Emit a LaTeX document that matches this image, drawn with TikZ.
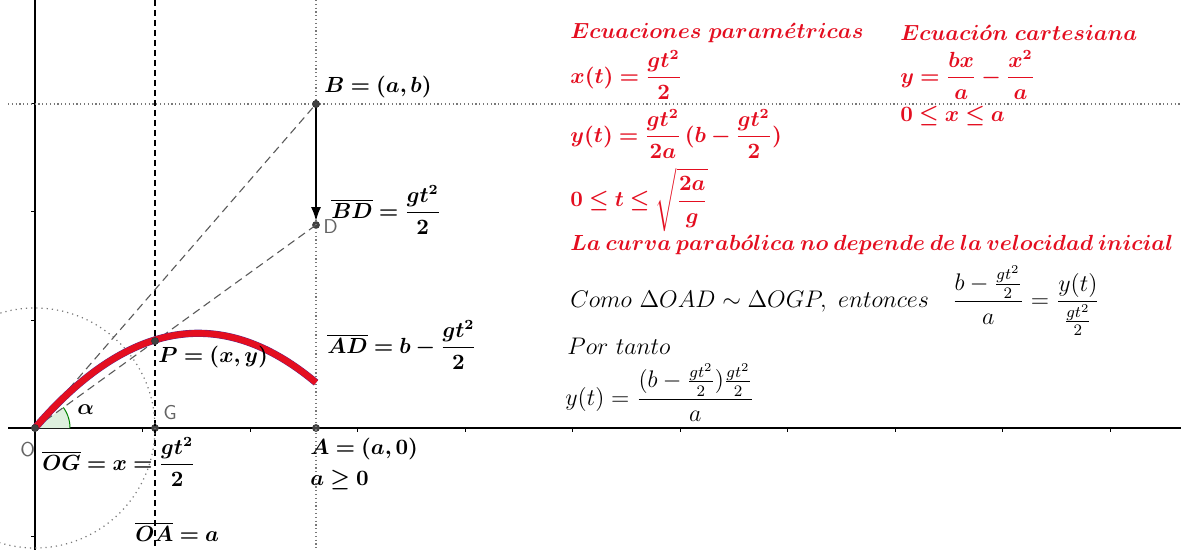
\documentclass[tikz,border=0pt]{standalone}
\usepackage{amsmath,amssymb,bm}
\usetikzlibrary{arrows.meta}
\definecolor{gred}{RGB}{228,14,32}
\definecolor{cblue}{RGB}{90,40,140}
\definecolor{ptgray}{RGB}{65,65,65}
\definecolor{lblgray}{RGB}{100,100,100}
\definecolor{dotgray}{RGB}{120,120,120}
\definecolor{dashgray}{RGB}{90,90,90}
\definecolor{angfill}{RGB}{222,240,222}
\definecolor{angline}{RGB}{0,130,0}
\tikzset{
  lbl/.style={anchor=west, inner sep=0pt, font=\fontsize{10.5}{12.6}\selectfont},
  blk/.style={anchor=west, inner sep=0pt, font=\fontsize{11.6}{14}\selectfont},
  redlbl/.style={lbl, text=gred},
  gry/.style={anchor=west, inner sep=0pt, text=lblgray, font=\sffamily\fontsize{10}{12}\selectfont},
  ptdot/.style={circle, fill=ptgray, draw=black!80, line width=0.2pt, inner sep=0pt, minimum size=3.6pt},
  dotln/.style={dotgray, line width=0.6pt, dash pattern=on 0.6pt off 1.3pt},
  dashln/.style={black, line width=0.6pt, dash pattern=on 3pt off 2pt},
  gdash/.style={dashgray, line width=0.55pt, dash pattern=on 4pt off 2.5pt},
  axis/.style={black, line width=0.6pt},
  tick/.style={black, line width=0.5pt}
}
\begin{document}
\begin{tikzpicture}[x=0.5pt, y=-0.5pt]
\clip (0,0) rectangle (1181,550);
\fill[white] (0,0) rectangle (1181,550);
% axes
\draw[axis] (8,428) -- (1181,428);
\draw[axis] (35,0) -- (35,550);
\foreach \t in {142.5,250,357.5,465,572.5,680,787.5,895,1002.5,1110}
  \draw[tick] (\t,428) -- (\t,432);
\foreach \t in {104,212,320,536}
  \draw[tick] (31,\t) -- (35,\t);
% points
\node[ptdot] (O) at (35,428) {};
\node[ptdot] (G) at (155,428) {};
\node[ptdot] (A) at (316,428) {};
\node[ptdot] (B) at (316,104) {};
\node[ptdot] (D) at (316,225) {};
\node[ptdot] (P) at (155,341) {};
% auxiliary lines
\draw[dotln] (8,104) -- (1181,104);
\draw[dotln] (316,0) -- (316,550);
\draw[dashln] (155,0) -- (155,550);
\draw[dotln, dash pattern=on 0.6pt off 2pt] (O.center) circle[radius=120];
% angle
\fill[angfill] (O.center) -- plot[domain=0:35.85, samples=20] ({35+35*cos(\x)},{428-35*sin(\x)}) -- cycle;
\draw[angline, line width=0.5pt] plot[domain=0:35.85, samples=20] ({35+35*cos(\x)},{428-35*sin(\x)});
\draw[gdash] (O.center) -- (B.center);
\draw[gdash] (O.center) -- (D.center);
% curve
\draw[cblue, line width=3.6pt] plot[domain=0:281, samples=80] ({35+\x},{428-(1.1605*\x-0.00356*\x*\x)});
\draw[gred, line width=3.2pt] plot[domain=0:281, samples=80] ({35+\x},{428-(1.1605*\x-0.00356*\x*\x)});
% arrow
\draw[black, line width=1.1pt, -{Latex[length=7pt,width=5pt]}] (B.center) -- (D.north);
\node[ptdot] at (B) {};
\node[ptdot] at (O) {};
\node[ptdot] at (P) {};
% labels
\node[gry] (lO) at (20,450) {O};
\node[gry] (lG) at (163,413) {G};
\node[gry] (lD) at (323,227) {D};
\node[lbl] (lalpha) at (77,410) {$\bm{\alpha}$};
\node[lbl] (lB) at (324,87) {$\bm{B=(a,b)}$};
\node[lbl] (lBD) at (331,210) {$\displaystyle\bm{\overline{BD}=\frac{gt^2}{2}}$};
\node[lbl] (lAD) at (327,345) {$\displaystyle\bm{\overline{AD}=b-\frac{gt^2}{2}}$};
\node[lbl] (lP) at (158,357) {$\bm{P=(x,y)}$};
\node[lbl] (lOG) at (42,462) {$\displaystyle\bm{\overline{OG}=x=\frac{gt^2}{2}}$};
\node[lbl] (lOA) at (135,532) {$\bm{\overline{OA}=a}$};
\node[lbl] (lA) at (310,449) {$\bm{A=(a,0)}$};
\node[lbl] (la) at (310,480) {$\bm{a\geq 0}$};
% right-hand text
\node[redlbl] (t1) at (570,33) {$\bm{Ecuaciones\ param\acute{e}tricas}$};
\node[redlbl] (t2) at (900,33) {$\bm{Ecuaci\acute{o}n\ cartesiana}$};
\node[redlbl] (t3) at (570,75) {$\displaystyle\bm{x(t)=\frac{gt^2}{2}}$};
\node[redlbl] (t4) at (570,134) {$\displaystyle\bm{y(t)=\frac{gt^2}{2a}\,(b-\frac{gt^2}{2})}$};
\node[redlbl, anchor=base west] (t5) at (570,207) {$\displaystyle\bm{0\leq t\leq\sqrt{\frac{2a}{g}}}$};
\node[redlbl] (t6) at (900,75) {$\displaystyle\bm{y=\frac{bx}{a}-\frac{x^2}{a}}$};
\node[redlbl] (t7) at (900,116) {$\bm{0\leq x\leq a}$};
\node[redlbl] (t8) at (570,245) {$\bm{La\:curva\:parab\acute{o}lica\:no\:depende\:de\:la\:velocidad\:inicial}$};
\node[blk] (t9) at (570,301) {$Como\ \Delta OAD\sim\Delta OGP,\ entonces\quad\displaystyle\frac{b-\frac{gt^2}{2}}{a}=\frac{y(t)}{\frac{gt^2}{2}}$};
\node[blk] (t10) at (567,346) {$Por\ tanto$};
\node[blk] (t11) at (565,393) {$\displaystyle y(t)=\frac{(b-\frac{gt^2}{2})\frac{gt^2}{2}}{a}$};
\end{tikzpicture}
\end{document}
